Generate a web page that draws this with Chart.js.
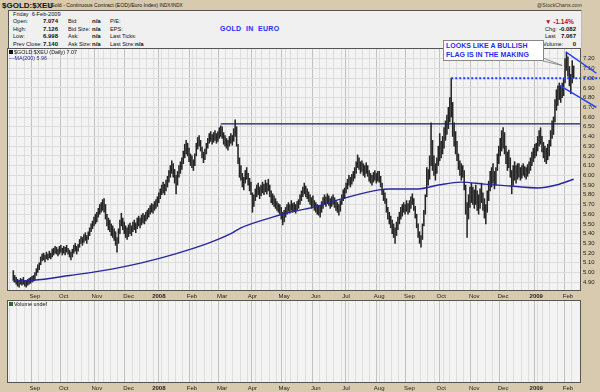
<!DOCTYPE html>
<html>
<head>
<meta charset="utf-8">
<script src="https://cdn.jsdelivr.net/npm/chart.js@4.4.0/dist/chart.umd.min.js"></script>
<style>
  body { margin:0; width:600px; height:392px; background:#d8caae; position:relative; overflow:hidden;
         font-family:"Liberation Sans", Arial, sans-serif; color:#111; }
  .t { position:absolute; white-space:nowrap; font-size:5.6px; line-height:7px; }
  .b { font-weight:bold; font-size:6px; }
  .r { text-align:right; }
  #head { position:absolute; left:8px; top:10px; width:572px; height:37px; background:#f0f0f0;
          border-top:1px solid #555; border-left:1px solid #555; border-right:1px solid #bbb; }
  #main { position:absolute; left:0; top:48px; width:600px; height:252px; }
  #vol  { position:absolute; left:0; top:300px; width:600px; height:92px; }
  #note { position:absolute; left:443px; top:40px; width:97px; height:19px; background:#fff;
          border:1px solid #888; color:#1f2bff; font-weight:bold; font-size:7px; line-height:9px;
          padding-left:2px; z-index:5; }
</style>
</head>
<body>
<!-- titulo -->
<div class="t" style="left:2px;top:1px;font-size:8px;font-weight:bold;line-height:9px">$GOLD:$XEU</div>
<div class="t" style="left:49px;top:2px;font-size:5.2px">(Gold - Continuous Contract (EOD)/Euro Index) <span style="font-size:4.6px">INDX/INDX</span></div>
<div class="t" style="left:537px;top:2px;font-size:5.2px;color:#333">@StockCharts.com</div>

<div id="head"></div>
<div class="t" style="left:13px;top:10.5px">Friday &nbsp;6-Feb-2009</div>
<div class="t" style="left:13px;top:18px">Open:</div><div class="t b" style="left:43px;top:18px">7.074</div>
<div class="t" style="left:68px;top:18px">Bid:</div><div class="t b" style="left:92px;top:18px">n/a</div>
<div class="t" style="left:110px;top:18px">P/E:</div>
<div class="t" style="left:13px;top:25.5px">High:</div><div class="t b" style="left:43px;top:25.5px">7.126</div>
<div class="t" style="left:68px;top:25.5px">Bid Size:</div><div class="t b" style="left:92px;top:25.5px">n/a</div>
<div class="t" style="left:110px;top:25.5px">EPS:</div>
<div class="t" style="left:13px;top:33px">Low:</div><div class="t b" style="left:43px;top:33px">6.998</div>
<div class="t" style="left:68px;top:33px">Ask:</div><div class="t b" style="left:92px;top:33px">n/a</div>
<div class="t" style="left:110px;top:33px">Last Ticks:</div>
<div class="t" style="left:13px;top:40.5px">Prev Close:</div><div class="t b" style="left:43px;top:40.5px">7.140</div>
<div class="t" style="left:68px;top:40.5px">Ask Size:</div><div class="t b" style="left:92px;top:40.5px">n/a</div>
<div class="t" style="left:110px;top:40.5px">Last Size:</div><div class="t b" style="left:135px;top:40.5px">n/a</div>
<div class="t" style="left:220px;top:25px;font-size:7px;font-weight:bold;color:#1f2bff;letter-spacing:0.3px">GOLD &nbsp;IN &nbsp;EURO</div>

<div class="t b" style="left:545px;top:17.5px;color:#b0102a;font-size:6.5px">&#9660; -1.14%</div>
<div class="t" style="left:545px;top:25.5px">Chg:</div><div class="t b r" style="left:556px;top:25.5px;width:20px">-0.082</div>
<div class="t" style="left:545px;top:33px">Last</div><div class="t b r" style="left:556px;top:33px;width:20px">7.067</div>
<div class="t" style="left:543px;top:40.5px">Volume:</div><div class="t b r" style="left:566px;top:40.5px;width:10px">0</div>

<div id="main"><canvas id="priceChart" width="600" height="252"></canvas></div>
<div id="vol"><canvas id="volChart" width="600" height="92"></canvas></div>

<div class="t" style="left:9px;top:49px;font-size:5.4px;z-index:4"><span style="display:inline-block;width:4px;height:4px;background:#111;margin-right:1px"></span>$GOLD:$XEU (Daily) 7.07</div>
<div class="t" style="left:9px;top:54.5px;font-size:5.4px;color:#2525a0;z-index:4">&#8212;MA(200) 5.96</div>
<div class="t" style="left:9px;top:300.5px;font-size:5.4px;z-index:4"><span style="display:inline-block;width:4px;height:4px;background:#2b6b2b;margin-right:1px"></span>Volume undef</div>

<div id="note">LOOKS LIKE A BULLISH<br>FLAG IS IN THE MAKING</div>

<script>
// Datos diarios (dias habiles desde 13-Ago-2007)
const lows = [
  // ago 2007
  4.92,4.90,4.88,4.86,4.85,4.88,4.87,4.88,4.86,4.85,4.87,4.88,4.89,4.90,4.91,
  // sep
  4.93,4.97,5.00,5.03,5.08,5.12,5.13,5.11,5.14,5.13,5.15,5.14,5.16,5.18,5.20,5.19,5.17,5.19,5.21,5.18,
  // oct
  5.20,5.18,5.21,5.19,5.16,5.13,5.16,5.20,5.22,5.19,5.22,5.26,5.30,5.28,5.31,5.33,5.30,5.34,5.38,5.42,5.45,5.48,5.50,
  // nov
  5.52,5.57,5.60,5.62,5.64,5.62,5.55,5.48,5.44,5.42,5.38,5.36,5.33,5.28,5.21,5.30,5.40,5.48,5.44,5.40,5.36,5.34,
  // dic
  5.37,5.40,5.38,5.42,5.44,5.41,5.45,5.48,5.46,5.49,5.51,5.50,5.53,5.55,5.57,5.60,5.62,5.61,5.64,5.66,5.68,
  // ene 2008
  5.72,5.76,5.80,5.82,5.80,5.84,5.88,5.93,5.98,6.02,5.98,5.92,5.81,5.90,5.98,6.02,6.06,6.12,6.18,6.22,6.20,6.14,6.10,
  // feb
  6.08,6.05,6.10,6.20,6.27,6.30,6.25,6.18,6.13,6.16,6.22,6.28,6.33,6.35,6.32,6.34,6.36,6.33,6.35,6.38,6.40,
  // mar
  6.38,6.32,6.30,6.28,6.26,6.30,6.33,6.31,6.35,6.40,6.30,6.12,5.98,5.95,5.88,5.85,5.92,5.96,5.90,5.84,5.80,
  // abr
  5.62,5.68,5.74,5.78,5.80,5.76,5.79,5.82,5.80,5.83,5.81,5.84,5.78,5.72,5.70,5.68,5.66,5.64,5.62,5.60,5.55,5.49,
  // may
  5.52,5.57,5.60,5.63,5.61,5.64,5.62,5.63,5.61,5.64,5.66,5.70,5.74,5.78,5.81,5.78,5.76,5.73,5.70,5.66,5.68,5.64,
  // jun
  5.62,5.60,5.59,5.57,5.62,5.66,5.70,5.68,5.71,5.69,5.66,5.68,5.70,5.67,5.64,5.62,5.59,5.63,5.70,5.74,5.76,
  // jul
  5.82,5.86,5.90,5.88,5.91,5.94,5.97,6.02,6.08,6.06,6.02,6.04,6.00,5.98,6.02,5.99,5.94,5.92,5.90,5.93,5.95,5.92,5.94,
  // ago
  5.93,5.88,5.80,5.74,5.71,5.62,5.55,5.50,5.46,5.40,5.36,5.30,5.38,5.44,5.50,5.55,5.58,5.62,5.60,5.63,5.60,
  // sep
  5.62,5.66,5.70,5.64,5.56,5.46,5.36,5.30,5.26,5.34,5.48,5.60,5.78,5.90,5.96,6.10,6.05,6.00,5.95,6.02,6.10,6.15,
  // oct
  6.18,6.22,6.28,6.36,6.42,6.48,6.55,6.60,6.40,6.30,6.22,6.15,6.06,6.00,5.95,5.98,5.85,5.60,5.36,5.55,5.67,5.72,5.70,
  // nov
  5.66,5.70,5.64,5.60,5.66,5.72,5.64,5.56,5.50,5.62,5.74,5.84,5.88,5.92,5.86,5.90,6.05,6.12,6.20,6.25,
  // dic
  6.28,6.22,6.12,6.05,6.08,5.98,5.81,5.90,5.95,5.92,5.96,5.98,5.95,5.97,6.00,5.98,5.96,5.99,6.02,6.05,6.10,6.14,6.18,
  // ene 2009
  6.20,6.25,6.30,6.32,6.24,6.18,6.14,6.12,6.16,6.20,6.30,6.38,6.42,6.55,6.67,6.72,6.78,6.75,6.80,6.82,6.95,7.08,
  // feb
  7.02,6.92,6.84,6.95,6.998
];
const highs = [
  5.02,4.97,4.95,4.93,4.92,4.94,4.93,4.95,4.92,4.91,4.93,4.94,4.95,4.96,4.97,
  5.00,5.04,5.08,5.10,5.16,5.19,5.20,5.18,5.21,5.19,5.22,5.20,5.24,5.25,5.27,5.26,5.24,5.27,5.28,5.25,
  5.27,5.26,5.28,5.25,5.23,5.21,5.24,5.28,5.30,5.27,5.29,5.34,5.37,5.36,5.39,5.41,5.38,5.42,5.46,5.50,5.53,5.57,5.60,
  5.62,5.66,5.70,5.72,5.75,5.76,5.70,5.60,5.56,5.54,5.50,5.48,5.45,5.42,5.36,5.45,5.54,5.61,5.56,5.52,5.48,5.46,
  5.49,5.51,5.48,5.52,5.54,5.51,5.56,5.58,5.56,5.59,5.61,5.59,5.62,5.64,5.66,5.69,5.71,5.70,5.73,5.75,5.78,
  5.82,5.86,5.90,5.93,5.91,5.95,5.99,6.05,6.10,6.15,6.12,6.06,6.00,6.04,6.10,6.14,6.18,6.25,6.32,6.36,6.33,6.28,6.22,
  6.20,6.16,6.22,6.33,6.39,6.41,6.36,6.29,6.24,6.27,6.33,6.38,6.43,6.45,6.42,6.44,6.46,6.43,6.45,6.49,6.51,
  6.50,6.44,6.41,6.38,6.36,6.40,6.43,6.41,6.48,6.57,6.50,6.32,6.18,6.10,6.02,5.98,6.05,6.08,6.02,5.97,5.93,
  5.82,5.80,5.86,5.90,5.92,5.88,5.90,5.93,5.91,5.95,5.92,5.96,5.90,5.84,5.81,5.79,5.76,5.73,5.71,5.70,5.67,5.62,
  5.64,5.67,5.70,5.72,5.70,5.74,5.71,5.72,5.70,5.73,5.75,5.80,5.84,5.88,5.92,5.89,5.86,5.83,5.80,5.77,5.79,5.74,
  5.72,5.70,5.69,5.68,5.73,5.77,5.80,5.78,5.81,5.79,5.76,5.78,5.80,5.77,5.74,5.72,5.70,5.74,5.80,5.85,5.87,
  5.92,5.96,6.00,5.98,6.01,6.04,6.08,6.14,6.21,6.18,6.14,6.15,6.12,6.10,6.13,6.10,6.05,6.02,6.00,6.03,6.05,6.02,6.04,
  6.04,5.99,5.92,5.85,5.82,5.76,5.67,5.62,5.58,5.54,5.50,5.46,5.52,5.57,5.62,5.67,5.70,5.72,5.70,5.74,5.71,
  5.74,5.78,5.81,5.76,5.68,5.60,5.50,5.42,5.38,5.50,5.64,5.80,6.08,6.06,6.20,6.54,6.36,6.20,6.12,6.18,6.30,6.43,
  6.35,6.40,6.49,6.56,6.62,6.70,6.80,7.00,6.75,6.54,6.45,6.35,6.22,6.15,6.12,6.10,6.05,5.90,5.72,5.80,5.88,5.92,5.88,
  5.85,5.90,5.84,5.80,5.86,5.92,5.82,5.76,5.70,5.84,5.94,6.04,6.08,6.12,6.04,6.08,6.22,6.30,6.38,6.46,
  6.49,6.44,6.30,6.24,6.26,6.18,6.05,6.10,6.14,6.10,6.12,6.12,6.08,6.10,6.12,6.09,6.08,6.11,6.14,6.18,6.24,6.28,6.32,
  6.33,6.40,6.46,6.49,6.40,6.34,6.30,6.28,6.32,6.36,6.46,6.56,6.60,6.78,6.88,6.92,6.95,6.92,6.95,7.00,7.20,7.26,
  7.22,7.12,7.04,7.18,7.126
];

// Media movil 200 dias: [indice de dia, valor]
const maDay   = [0, 14, 39, 62, 89, 112, 135, 151, 158, 180, 192, 208, 231, 254, 261, 281, 295, 311, 327, 345, 364, 377, 389];
const maValue = [4.91, 4.92, 4.97, 5.02, 5.10, 5.19, 5.30, 5.40, 5.46, 5.57, 5.62, 5.67, 5.77, 5.85, 5.86, 5.86, 5.90, 5.93, 5.91, 5.89, 5.87, 5.90, 5.96];

// Etiquetas de ejes
const xTickLabels = ['Sep','Oct','Nov','Dec','2008','Feb','Mar','Apr','May','Jun','Jul','Aug','Sep','Oct','Nov','Dec','2009','Feb'];
const yTicks = [4.9,5.0,5.1,5.2,5.3,5.4,5.5,5.6,5.7,5.8,5.9,6.0,6.1,6.2,6.3,6.4,6.5,6.6,6.7,6.8,6.9,7.0,7.1,7.2];

// Lineas dibujadas por el analista (indice de dia, precio)
const resistance = { from: 144, level: 6.53 };
const breakout   = { from: 304, level: 7.00 };
const flagUpper  = [[383.5, 7.27], [404.8, 7.05]];
const flagLower  = [[379.2, 6.925], [404.8, 6.70]];
const noteTarget = [381, 7.13];

const family = '"Liberation Sans", Arial, sans-serif';
const X_MIN = -1.4, X_MAX = 391.1;

// Calendario de dias habiles
const dates = [];
for (let d = new Date(2007, 7, 13); dates.length < lows.length; d.setDate(d.getDate() + 1)) {
    const wd = d.getDay();
    if (wd !== 0 && wd !== 6) dates.push(new Date(d));
}
const monthStarts = [];
const weekStarts = [];
dates.forEach((d, i) => {
    if (i > 0 && d.getMonth() !== dates[i - 1].getMonth()) monthStarts.push(i);
    if (d.getDay() === 1) weekStarts.push(i);
});
const labelAt = {};
monthStarts.forEach((i, k) => { labelAt[i] = xTickLabels[k]; });
const xTickValues = [...new Set([...weekStarts, ...monthStarts])].sort((a, b) => a - b);

function xScale() {
    return {
        type: 'linear', min: X_MIN, max: X_MAX,
        afterBuildTicks: (s) => { s.ticks = xTickValues.map(v => ({ value: v })); },
        afterFit: (s) => { s.height = 9; s.paddingLeft = 0; s.paddingRight = 0; },
        grid: {
            color: (c) => (c.tick && labelAt[c.tick.value] !== undefined) ? '#c2c2c2' : '#dedede',
            drawTicks: false
        },
        border: { display: false },
        ticks: {
            autoSkip: false, maxRotation: 0, padding: 2, color: '#222',
            font: (c) => ({ family, size: 6, weight: (c.tick && /^\d{4}$/.test(labelAt[c.tick.value] || '')) ? 'bold' : 'normal' }),
            callback: (v) => labelAt[v] || ''
        }
    };
}

// Fondo y borde del panel
const panelBg = {
    id: 'panelBg',
    beforeDraw(chart) {
        const { ctx, chartArea: a } = chart;
        ctx.save();
        ctx.fillStyle = '#f3f3f3';
        ctx.fillRect(a.left, a.top, a.width, a.height);
        ctx.restore();
    },
    afterDraw(chart) {
        const { ctx, chartArea: a } = chart;
        ctx.save();
        ctx.strokeStyle = '#555';
        ctx.lineWidth = 1;
        ctx.strokeRect(Math.round(a.left) - 0.5, Math.round(a.top) + 0.5, Math.round(a.width) + 1, Math.round(a.height) - 1);
        ctx.restore();
    }
};

// Lineas de tendencia y nota
const drawings = {
    id: 'drawings',
    afterDatasetsDraw(chart) {
        const { ctx, chartArea: a, scales: { x, y } } = chart;
        const px = (p) => [x.getPixelForValue(p[0]), y.getPixelForValue(p[1])];
        ctx.save();
        // resistencia
        ctx.strokeStyle = '#16166e';
        ctx.lineWidth = 1.3;
        ctx.beginPath();
        ctx.moveTo(x.getPixelForValue(resistance.from), y.getPixelForValue(resistance.level));
        ctx.lineTo(a.right, y.getPixelForValue(resistance.level));
        ctx.stroke();
        // ruptura punteada
        ctx.strokeStyle = '#1f3cff';
        ctx.lineWidth = 2;
        ctx.setLineDash([2, 2]);
        ctx.beginPath();
        ctx.moveTo(x.getPixelForValue(breakout.from), y.getPixelForValue(breakout.level));
        ctx.lineTo(chart.width, y.getPixelForValue(breakout.level));
        ctx.stroke();
        ctx.setLineDash([]);
        // bandera
        ctx.lineWidth = 1.4;
        [flagUpper, flagLower].forEach(seg => {
            const p0 = px(seg[0]), p1 = px(seg[1]);
            ctx.beginPath();
            ctx.moveTo(p0[0], p0[1]);
            ctx.lineTo(p1[0], p1[1]);
            ctx.stroke();
        });
        // puntero de la nota
        const note = document.getElementById('note').getBoundingClientRect();
        const cv = chart.canvas.getBoundingClientRect();
        const t = px(noteTarget);
        const bx = note.right - cv.left - 1;
        const by = note.bottom - cv.top;
        ctx.strokeStyle = '#777';
        ctx.lineWidth = 0.8;
        ctx.beginPath();
        ctx.moveTo(bx, by - 3);
        ctx.lineTo(t[0], t[1]);
        ctx.lineTo(bx, by);
        ctx.stroke();
        ctx.restore();
    }
};

new Chart(document.getElementById('priceChart'), {
    type: 'bar',
    data: {
        datasets: [{
            type: 'bar',
            data: lows.map((l, i) => ({ x: i, y: [l, highs[i]] })),
            backgroundColor: '#262626',
            barThickness: 0.9,
            grouped: false,
            order: 2
        }, {
            type: 'line',
            data: maDay.map((d, k) => ({ x: d, y: maValue[k] })),
            borderColor: '#2626a3',
            borderWidth: 1.4,
            pointRadius: 0,
            cubicInterpolationMode: 'monotone',
            order: 1
        }]
    },
    options: {
        responsive: false,
        animation: false,
        layout: { padding: { left: 8, right: 0, top: 0, bottom: 0 } },
        plugins: { legend: { display: false }, tooltip: { enabled: false } },
        scales: {
            x: xScale(),
            y: {
                position: 'right', min: 4.81, max: 7.31,
                afterBuildTicks: (s) => { s.ticks = yTicks.map(v => ({ value: v })); },
                afterFit: (s) => { s.width = 20; s.paddingTop = 0; s.paddingBottom = 0; },
                grid: { color: '#dcdcdc', tickLength: 2 },
                border: { display: false },
                ticks: { padding: 1, color: '#222', font: { family, size: 6 }, callback: (v) => v.toFixed(2) }
            }
        }
    },
    plugins: [panelBg, drawings]
});

new Chart(document.getElementById('volChart'), {
    type: 'bar',
    data: { datasets: [] },
    options: {
        responsive: false,
        animation: false,
        layout: { padding: { left: 8, right: 20, top: 0, bottom: 0 } },
        plugins: { legend: { display: false }, tooltip: { enabled: false } },
        scales: {
            x: xScale(),
            y: { display: false, min: 0, max: 1 }
        }
    },
    plugins: [panelBg]
});
</script>
</body>
</html>
